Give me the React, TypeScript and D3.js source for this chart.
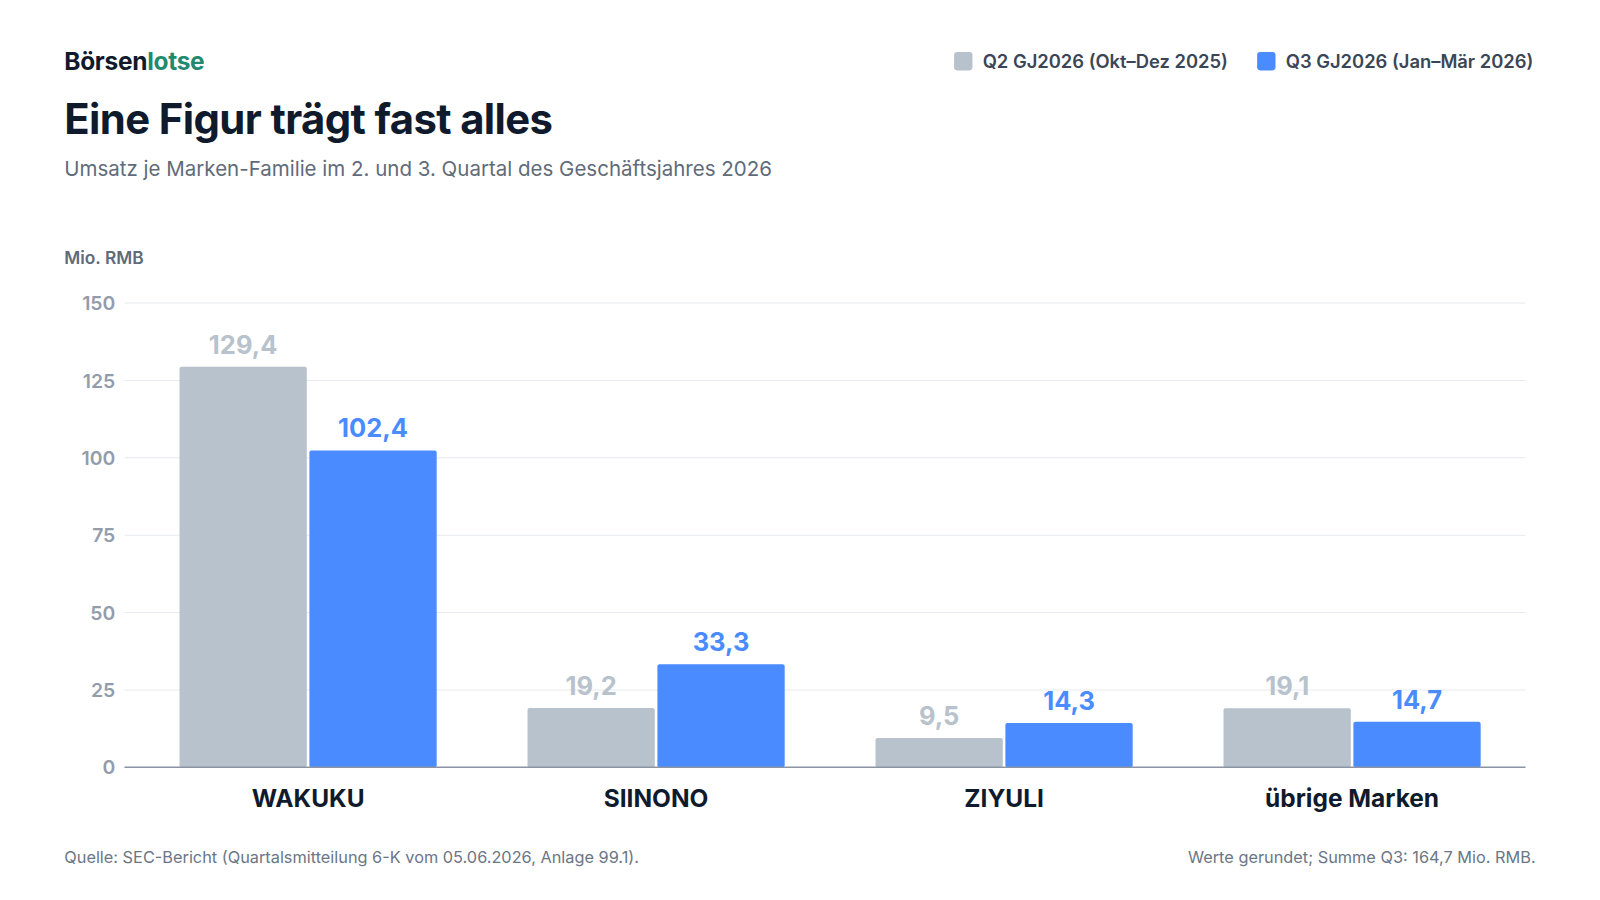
import * as d3 from 'd3';

const categories = ['WAKUKU', 'SIINONO', 'ZIYULI', 'übrige Marken'];
const q2Values = [129.4, 19.2, 9.5, 19.1];
const q3Values = [102.4, 33.3, 14.3, 14.7];
const yTicks = [0, 25, 50, 75, 100, 125, 150];
const seriesNames = ['Q2 GJ2026 (Okt–Dez 2025)', 'Q3 GJ2026 (Jan–Mär 2026)'];
const colors = ['#b8c2cc', '#4a8cff'];
const labelColors = ['#b8c2cc', '#4a8cff'];

// layout measured in the reference's 1568x882 preview space
const W = 1568;
const H = 882;
const margin = { left: 122, right: 73, top: 297, bottom: 130 };
const fmt = (v: number) => v.toFixed(1).replace('.', ',');

export default function App() {
  const x = d3.scaleBand<string>().domain(categories).range([127, W - margin.right + 5]).paddingInner(0.261).paddingOuter(0.1435);
  const y = d3.scaleLinear().domain([0, 150]).range([H - margin.bottom, margin.top]);
  const sub = d3.scaleBand<number>().domain([0, 1]).range([0, x.bandwidth()]).paddingInner(0.02);
  const series = [q2Values, q3Values];
  const font = 'Inter, "Noto Sans", sans-serif';

  return (
    <svg width={1600} height={900} viewBox={`0 0 ${W} ${H}`} style={{ display: 'block', margin: '-8px', fontFamily: font }}>
      <rect width={W} height={H} fill="#fff" />
      <text x={63} y={69} fontSize={24} fontWeight={700} fill="#0f1b2d" letterSpacing={-0.3}>Börsen<tspan fill="#1f8a70">lotse</tspan></text>
      <text x={63} y={131} fontSize={41} fontWeight={700} fill="#0f1b2d" letterSpacing={-0.6}>Eine Figur trägt fast alles</text>
      <text x={63} y={172} fontSize={20.1} fill="#5f6b7a">Umsatz je Marken-Familie im 2. und 3. Quartal des Geschäftsjahres 2026</text>
      <text x={63} y={259} fontSize={17} fontWeight={600} fill="#5f6b7a">Mio. RMB</text>

      {/* legend */}
      <g fontSize={18} fontWeight={600} fill="#3a4656">
        <rect x={935} y={51} width={18} height={18} rx={3} fill={colors[0]} />
        <text x={963} y={67}>{seriesNames[0]}</text>
        <rect x={1232} y={51} width={18} height={18} rx={3} fill={colors[1]} />
        <text x={1260} y={67}>{seriesNames[1]}</text>
      </g>

      {yTicks.map(t => (
        <g key={t}>
          {t > 0 && <line x1={margin.left} x2={W - margin.right} y1={y(t)} y2={y(t)} stroke="#e6e9ee" />}
          <text x={113} y={y(t) + 7} textAnchor="end" fontSize={19} fontWeight={600} fill="#939cab">{t}</text>
        </g>
      ))}

      {categories.map((c, i) => (
        <g key={c} transform={`translate(${x(c)},0)`}>
          {series.map((s, k) => (
            <g key={k}>
              <rect x={sub(k)} y={y(s[i])} width={sub.bandwidth()} height={y(0) - y(s[i])} fill={colors[k]} rx={2} />
              <text x={sub(k)! + sub.bandwidth() / 2} y={y(s[i]) - 13} textAnchor="middle" fontSize={25} fontWeight={700} fill={labelColors[k]}>{fmt(s[i])}</text>
            </g>
          ))}
          <text x={x.bandwidth() / 2} y={791} textAnchor="middle" fontSize={24} fontWeight={700} fill="#0f1b2d">{c}</text>
        </g>
      ))}
      <line x1={margin.left} x2={W - margin.right} y1={y(0)} y2={y(0)} stroke="#8a94a3" strokeWidth={1.5} />

      <text x={63} y={846} fontSize={16} fill="#6b7685">Quelle: SEC-Bericht (Quartalsmitteilung 6-K vom 05.06.2026, Anlage 99.1).</text>
      <text x={1505} y={846} textAnchor="end" fontSize={16} fill="#6b7685">Werte gerundet; Summe Q3: 164,7 Mio. RMB.</text>
    </svg>
  );
}
